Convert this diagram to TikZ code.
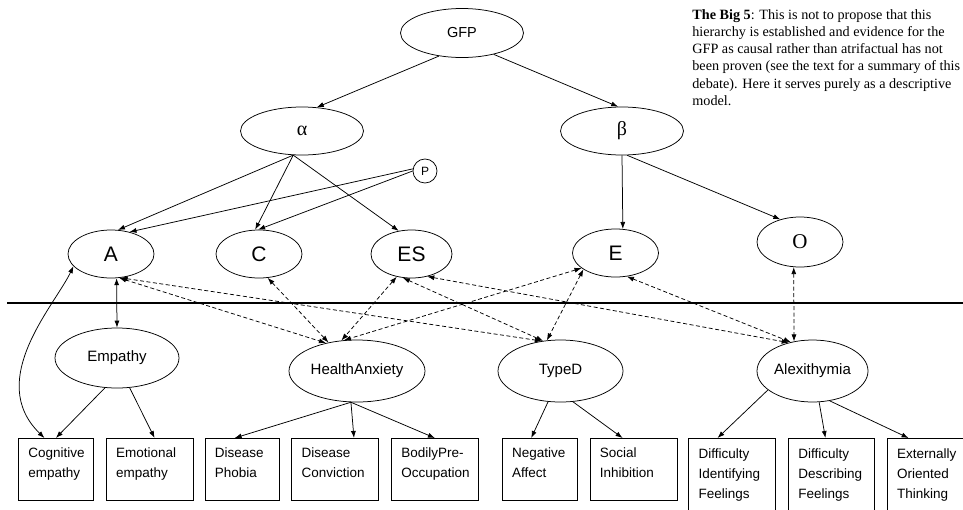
\documentclass[tikz,border=0pt]{standalone}
\usepackage{fontspec}
\setmainfont{Liberation Serif}
\setsansfont{Liberation Sans}
\usetikzlibrary{arrows.meta,shapes.geometric,positioning}

\begin{document}
\begin{tikzpicture}[->, >={Latex[length=7pt,width=5pt]}, x=1pt, y=-1pt, line width=0.75pt, node distance=12pt,
  latent/.style={ellipse, draw, inner sep=0pt, font=\sffamily\fontsize{15}{18}\selectfont},
  trait/.style={latent, minimum width=86pt, minimum height=48pt, font=\sffamily\fontsize{21}{24}\selectfont},
  item/.style={rectangle, draw, anchor=north west, text width=#1, inner xsep=10pt, inner ysep=0pt,
    minimum height=62pt, align=left, font=\sffamily\fontsize{13.5}{20}\selectfont\hyphenpenalty10000\relax,
    execute at end node={\rule[-13pt]{0pt}{1pt}}},
  item/.default=67pt,
  corr/.style={<->, dash pattern=on 4pt off 2.5pt}]
  \clip (0,0) rectangle (963,509);

  % upper level
  \node[latent, minimum width=123pt, minimum height=49pt, font=\sffamily\fontsize{14.5}{17}\selectfont] (GFP) at (462,33) {GFP};
  \node[latent, minimum width=123pt, minimum height=48pt, font=\rmfamily\fontsize{20}{24}\selectfont] (alpha) at (302,131) {α};
  \node[latent, minimum width=123pt, minimum height=48pt, font=\rmfamily\fontsize{20}{24}\selectfont] (beta) at (622,131) {β};
  \node[circle, draw, minimum size=24pt, inner sep=0pt, font=\sffamily\fontsize{12}{14}\selectfont] (P) at (425,171) {P};
  \node[trait] (A) at (111,254) {A};
  \node[trait] (C) at (259,254) {C};
  \node[trait, minimum width=81pt] (ES) at (411.5,254) {ES};
  \node[trait] (E) at (615.5,253) {E};
  \node[trait, minimum height=50pt, font=\rmfamily\fontsize{21}{24}\selectfont] (O) at (800,242) {O};

  \node[anchor=north west, align=left, inner sep=0pt, font=\rmfamily\fontsize{14.2}{17.2}\selectfont] (note) at (692,9)
    {\textbf{The Big 5}: This is not to propose that this\\
     hierarchy is established and evidence for the\\
     GFP as causal rather than atrifactual has not\\
     been proven (see the text for a summary of this\\
     debate). Here it serves purely as a descriptive\\
     model.};

  \draw[-, line width=1.4pt] (7,303) -- (963,303);

  % lower level
  \node[latent, minimum width=124pt, minimum height=60pt] (Emp)  at (117,358)   {Empathy};
  \node[latent, minimum width=136pt, minimum height=62pt] (HA)   at (357,371)   {HealthAnxiety};
  \node[latent, minimum width=125pt, minimum height=62pt] (TD)   at (560.5,371) {TypeD};
  \node[latent, minimum width=111pt, minimum height=62pt] (Alex) at (812.5,371) {Alexithymia};

  \node[item=55pt] (cogEmp) at (18,438) {Cognitive\\empathy};
  \node[item, right=of cogEmp.north east, anchor=north west] (emoEmp) {Emotional\\empathy};
  \node[item=54pt, right=11pt of emoEmp.north east, anchor=north west] (disPho) {Disease\\Phobia};
  \node[item, right=of disPho.north east, anchor=north west] (disCon) {Disease\\Conviction};
  \node[item, right=of disCon.north east, anchor=north west] (bodPre) {BodilyPre-\\Occupation};
  \node[item=55pt, right=23pt of bodPre.north east, anchor=north west] (negAff) {Negative\\Affect};
  \node[item, right=of negAff.north east, anchor=north west] (socInh) {Social\\Inhibition};
  \node[item, minimum height=84pt, right=11pt of socInh.north east, anchor=north west] (difIde) {Difficulty\\Identifying\\Feelings};
  \node[item=66pt, minimum height=84pt, right=of difIde.north east, anchor=north west] (difDes) {Difficulty\\Describing\\Feelings};
  \node[item=66pt, minimum height=84pt, right=of difDes.north east, anchor=north west] (extOri) {Externally\\Oriented\\Thinking};

  \path (GFP.225)   edge (alpha.58)
        (GFP.326)   edge (beta.99)
        (alpha.250) edge (A.74)
                    edge (C.99)
                    edge (ES.119)
        (P.170)     edge (A.50)
        (P.180)     edge (C.92)
        (beta.south) edge (E.73)
        (beta.282)  edge (O.131)
        (A.283)     edge [<->] (Emp.north)
        (Emp.248)   edge (cogEmp.north)
        (Emp.293)   edge (emoEmp.81)
        (HA.259)    edge (disPho.103)
                    edge (disCon.59)
                    edge (bodPre.north)
        (TD.248)    edge (negAff.105)
        (TD.292)    edge (socInh.109)
        (Alex.203)  edge (difIde.109)
        (Alex.282)  edge (difDes.98)
        (Alex.300)  edge (extOri.117);
  \draw[<->] (A.198) .. controls (55,305) and (-15,380) .. (cogEmp.110);

  \path[corr] (A.289)  edge (HA.138)
              (A.292)  edge (TD.122)
              (C.290)  edge (HA.135)
              (ES.237) edge (HA.117)
              (ES.250) edge (TD.120)
              (ES.305) edge (Alex.130)
              (E.204)  edge (HA.113)
              (E.207)  edge (TD.114)
              (E.296)  edge (Alex.127)
              (O.256)  edge (Alex.122);
\end{tikzpicture}
\end{document}
